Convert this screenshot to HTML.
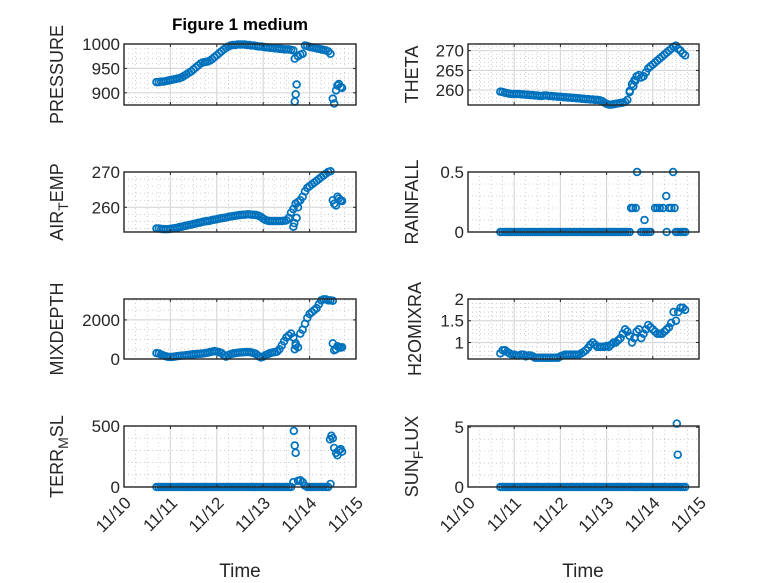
<!DOCTYPE html>
<html><head><meta charset="utf-8"><style>
html,body{margin:0;padding:0;background:#fff;}
svg{display:block;font-family:"Liberation Sans","DejaVu Sans",sans-serif;}
</style></head><body>
<svg id="fig" width="778" height="583" viewBox="0 0 778 583" xmlns="http://www.w3.org/2000/svg">
<rect width="778" height="583" fill="#fff"/>
<text x="240" y="30" text-anchor="middle" font-size="17" font-weight="bold" fill="#000">Figure 1 medium</text>
<text x="240" y="577" text-anchor="middle" font-size="19" fill="#262626">Time</text>
<text x="583" y="577" text-anchor="middle" font-size="19" fill="#262626">Time</text>
</svg>
<script>
const timeStart = 10.70, timeStep = 0.05;
const xTickLabels = ["11/10","11/11","11/12","11/13","11/14","11/15"];
const xTickDays = [10,11,12,13,14,15];

const pressureVals = [922,922,923,923,924,925,926,
927,928,929,930,932,935,938,941,944,948,
952,956,960,962,963,964,966,969,973,977,
981,985,989,992,995,997,998,998,999,999,
999,999,998,998,997,997,996,995,995,994,
993,993,992,992,991,991,990,990,989,989,
989,988,987,null,975,978,980,997,996,994,
993,992,991,990,989,988,987,985,980,null,
null,null,null,null];
const pressureOutT = [13.68,13.68,13.70,13.72,14.50,14.53,14.57,14.60,14.63,14.67,14.70];
const pressureOutV = [970,882,897,917,888,878,905,915,918,912,910];

const thetaVals = [259.6,259.5,259.3,259.2,259.1,259.0,259.0,
259.0,259.0,258.9,258.9,258.8,258.8,258.7,258.7,258.6,258.6,
258.5,258.5,258.6,258.6,258.5,258.5,258.4,258.4,258.3,258.3,
258.2,258.2,258.1,258.1,258.0,258.0,257.9,257.9,257.8,257.8,
257.7,257.7,257.6,257.6,257.5,257.5,257.4,257.2,256.8,256.5,
256.3,256.3,256.4,256.5,256.6,256.7,256.8,257.0,257.5,259.5,
261.5,262.5,263.5,263.8,263.2,263.5,264.5,265.5,266,266.5,
267,267.5,268,268.5,269,269.5,270,270.5,271,271.3,
270.5,270,269.3,268.8];
const thetaOutT = [13.50,13.58,13.62];
const thetaOutV = [259.8,261,262.3];

const airTempVals = [254,254,253.9,253.8,253.8,253.8,253.9,
254,254.1,254.2,254.4,254.5,254.7,254.8,255,255.1,255.3,
255.4,255.6,255.7,255.9,256,256.1,256.2,256.4,256.5,256.6,
256.8,256.9,257,257.1,257.3,257.4,257.5,257.6,257.7,257.8,
257.9,257.9,258,258,257.9,257.9,257.8,257.6,257.3,256.8,
256.4,256.2,256.1,256.1,256.1,256.1,256.1,256.1,256.2,256.3,
257,258.5,259.5,261,261.5,262,263,264.5,265.5,266,
266.5,267,267.5,268,268.5,269,269.5,270,270.2,null,
null,null,null,null];
const airTempOutT = [13.65,13.67,13.72,13.70,13.75,14.50,14.53,14.57,14.60,14.63,14.67,14.70];
const airTempOutV = [254.5,255.5,257,261,260,262,261,260.5,263,262.5,262,261.8];

const rainVals = [0,0,0,0,0,0,0, 0,0,0,0,0,0,0,0,0,0, 0,0,0,0,0,0,0,0,0,0,
0,0,0,0,0,0,0,0,0,0, 0,0,0,0,0,0,0,0,0,0, 0,0,0,0,0,0,0,0,0,0,
null,null,null,null,0,0,0,0,0,null,
null,null,null,null,null,0,null,null,null,0,
0,0,0,0];
const rainOutT = [13.53,13.57,13.63,13.66,13.82,14.05,14.10,14.15,14.22,14.29,14.35,14.40,14.44,14.47];
const rainOutV = [0.2,0.2,0.2,0.5,0.1,0.2,0.2,0.2,0.2,0.3,0.2,0.2,0.5,0.2];

const mixVals = [300,280,230,180,140,110,100,
110,130,150,160,170,180,200,210,230,240,
250,260,270,280,300,320,350,380,400,380,
350,300,200,120,200,250,280,300,320,330,
340,350,360,350,330,300,250,150,80,120,
200,250,300,330,350,380,500,700,900,1100,
1200,1300,1100,800,600,1300,1500,1800,2100,2300,
2400,2500,2600,2800,3000,3050,3050,3000,3000,2980,
null,null,null,null];
const mixOutT = [13.68,13.70,14.50,14.53,14.57,14.60,14.63,14.67,14.70];
const mixOutV = [500,700,800,450,500,650,600,580,600];

const h2oVals = [0.75,0.82,0.82,0.78,0.75,0.72,0.72,
0.7,0.7,0.72,0.72,0.68,0.7,0.7,0.68,0.65,0.65,
0.65,0.65,0.65,0.65,0.65,0.65,0.65,0.65,0.65,0.68,
0.7,0.72,0.72,0.72,0.72,0.72,0.72,0.72,0.75,0.78,
0.82,0.88,0.95,1.0,0.95,0.9,0.9,0.9,0.9,0.92,
0.9,0.95,1.0,1.0,1.05,1.1,1.2,1.3,1.25,1.15,
1.0,1.1,1.25,1.3,1.1,1.2,1.3,1.4,1.35,1.3,
1.25,1.2,1.2,1.2,1.25,1.3,1.35,1.45,1.7,1.5,
1.7,1.8,1.8,1.75];
const h2oOutT = [];
const h2oOutV = [];

const terrVals = [0,0,0,0,0,0,0, 0,0,0,0,0,0,0,0,0,0, 0,0,0,0,0,0,0,0,0,0,
0,0,0,0,0,0,0,0,0,0, 0,0,0,0,0,0,0,0,0,0, 0,0,0,0,0,0,0,0,0,0,
0,0,40,null,50,55,40,10,0,0,
0,0,0,0,0,0,0,0,25,null,
null,null,null,null];
const terrOutT = [13.66,13.68,13.70,14.44,14.47,14.50,14.53,14.57,14.60,14.63,14.67,14.70];
const terrOutV = [460,340,280,390,420,400,320,280,260,300,310,290];

const sunVals = [0,0,0,0,0,0,0, 0,0,0,0,0,0,0,0,0,0, 0,0,0,0,0,0,0,0,0,0,
0,0,0,0,0,0,0,0,0,0, 0,0,0,0,0,0,0,0,0,0, 0,0,0,0,0,0,0,0,0,0,
0,0,0,0,0,0,0,0,0,0, 0,0,0,0,0,0,0,0,0,0, 0,0,0,0];
const sunOutT = [14.52,14.54];
const sunOutV = [5.3,2.7];

const NS = "http://www.w3.org/2000/svg";
const svg = document.getElementById("fig");
function mk(tag, attrs, parent){
  const e = document.createElementNS(NS, tag);
  for (const k in attrs) e.setAttribute(k, attrs[k]);
  (parent||svg).appendChild(e);
  return e;
}
const cols = [{x0:124,x1:356},{x0:468,x1:699}];
const rows = [{y0:44,y1:105},{y0:172,y1:232},{y0:299,y1:359},{y0:426,y1:487}];

const panels = [
 {name:"pressure",c:0,r:0,ymin:875,ymax:1000,ticks:[900,950,1000],minor:10,label:["PRESSURE"],vals:pressureVals,ot:pressureOutT,ov:pressureOutV,lx:63},
 {name:"theta",c:1,r:0,ymin:256.2,ymax:271.7,ticks:[260,265,270],minor:1,label:["THETA"],vals:thetaVals,ot:thetaOutT,ov:thetaOutV,lx:418},
 {name:"air-temp",c:0,r:1,ymin:253,ymax:270,ticks:[260,270],minor:2,label:["AIR","T","EMP"],vals:airTempVals,ot:airTempOutT,ov:airTempOutV,lx:63},
 {name:"rainfall",c:1,r:1,ymin:0,ymax:0.5,ticks:[0,0.5],minor:0.1,label:["RAINFALL"],vals:rainVals,ot:rainOutT,ov:rainOutV,lx:418},
 {name:"mixdepth",c:0,r:2,ymin:0,ymax:3070,ticks:[0,2000],minor:500,label:["MIXDEPTH"],vals:mixVals,ot:mixOutT,ov:mixOutV,lx:63},
 {name:"h2omixra",c:1,r:2,ymin:0.62,ymax:2,ticks:[1,1.5,2],minor:0.1,label:["H2OMIXRA"],vals:h2oVals,ot:h2oOutT,ov:h2oOutV,lx:421},
 {name:"terr-msl",c:0,r:3,ymin:0,ymax:500,ticks:[0,500],minor:100,label:["TERR","M","SL"],vals:terrVals,ot:terrOutT,ov:terrOutV,lx:63},
 {name:"sun-flux",c:1,r:3,ymin:0,ymax:5.1,ticks:[0,5],minor:1,label:["SUN","F","LUX"],vals:sunVals,ot:sunOutT,ov:sunOutV,lx:418}
];

panels.forEach(p=>{
  const C = cols[p.c], R = rows[p.r];
  const xs = d => C.x0 + (d-10)/5*(C.x1-C.x0);
  const ys = v => R.y1 - (v-p.ymin)/(p.ymax-p.ymin)*(R.y1-R.y0);
  const g = mk("g",{});
  
  
  for (let d=10; d<=15.0001; d+=0.25){
    if (Math.abs(d-Math.round(d))<1e-6) continue;
    const l = mk("line",{x1:xs(d),x2:xs(d),y1:R.y0,y2:R.y1,stroke:"#b0b0b0","stroke-width":0.6,"stroke-dasharray":"1 3"},g);
    
    
  }
  const m0 = Math.ceil(p.ymin/p.minor-1e-9);
  for (let k=m0; k*p.minor<=p.ymax+1e-9; k++){
    const v = k*p.minor;
    if (p.ticks.some(t=>Math.abs(t-v)<1e-9)) continue;
    const l = mk("line",{x1:C.x0,x2:C.x1,y1:ys(v),y2:ys(v),stroke:"#b0b0b0","stroke-width":0.6,"stroke-dasharray":"1 3"},g);
    
    
  }
  xTickDays.forEach(d=>{
    const l = mk("line",{x1:xs(d),x2:xs(d),y1:R.y0,y2:R.y1,stroke:"#d8d8d8","stroke-width":1.2},g);
    
    
  });
  p.ticks.forEach(v=>{
    const l = mk("line",{x1:C.x0,x2:C.x1,y1:ys(v),y2:ys(v),stroke:"#d8d8d8","stroke-width":1.2},g);
    
    
  });
  const mg = mk("g",{fill:"none",stroke:"#0072BD","stroke-width":1.7},g);
  
  
  p.vals.forEach((v,i)=>{
    if (v===null) return;
    const t = timeStart + i*timeStep;
    const c = mk("circle",{cx:xs(t),cy:ys(v),r:3.4},mg);
    
    
  });
  p.ot.forEach((t,i)=>{
    const c = mk("circle",{cx:xs(t),cy:ys(p.ov[i]),r:3.4},mg);
    
    
  });
  const b = mk("rect",{x:C.x0,y:R.y0,width:C.x1-C.x0,height:R.y1-R.y0,fill:"none",stroke:"#262626","stroke-width":1.4},g);
  
  
  xTickDays.forEach((d,i)=>{
    mk("line",{x1:xs(d),x2:xs(d),y1:R.y1,y2:R.y1-3,stroke:"#262626","stroke-width":1},g);
    mk("line",{x1:xs(d),x2:xs(d),y1:R.y0,y2:R.y0+3,stroke:"#262626","stroke-width":1},g);
    if (p.r===3){
      const ax = xs(d)+8, ay = R.y1+17;
      const tx = mk("text",{x:ax,y:ay,"text-anchor":"end","font-size":17,fill:"#262626",transform:`rotate(-45 ${ax} ${ay})`},g);
      tx.textContent = xTickLabels[i];
      
      
    }
  });
  p.ticks.forEach(v=>{
    mk("line",{x1:C.x0,x2:C.x0+3,y1:ys(v),y2:ys(v),stroke:"#262626","stroke-width":1},g);
    mk("line",{x1:C.x1,x2:C.x1-3,y1:ys(v),y2:ys(v),stroke:"#262626","stroke-width":1},g);
    const tx = mk("text",{x:C.x0-4,y:ys(v)+6,"text-anchor":"end","font-size":17,fill:"#262626"},g);
    tx.textContent = String(v);
    
    
  });
  const cy = (R.y0+R.y1)/2;
  const lab = mk("text",{x:p.lx,y:cy,"text-anchor":"middle","font-size":18,fill:"#262626",transform:`rotate(-90 ${p.lx} ${cy})`},g);
  
  
  if (p.label.length===1){ lab.textContent = p.label[0]; }
  else {
    const a = mk("tspan",{},lab); a.textContent = p.label[0];
    const s = mk("tspan",{"font-size":14,dy:5},lab); s.textContent = p.label[1];
    const e = mk("tspan",{dy:-5},lab); e.textContent = p.label[2];
  }
});
</script>
</body></html>
